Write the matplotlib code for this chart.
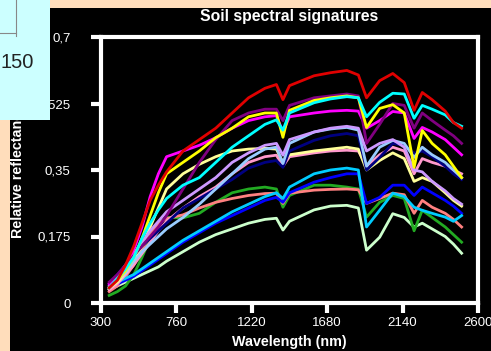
import matplotlib
matplotlib.use("Agg")
import matplotlib.pyplot as plt
from matplotlib.patches import Rectangle
from matplotlib.lines import Line2D

plt.rcParams['font.family'] = ['Liberation Sans', 'DejaVu Sans']

wavelength = [350, 400, 450, 500, 550, 600, 650, 700, 800, 900, 1000, 1100, 1200, 1300, 1370,
              1410, 1450, 1600, 1700, 1800, 1870, 1920, 2000, 2080, 2150, 2210, 2260, 2320, 2400,
              2450, 2500]

pale_green = [0.035, 0.045, 0.055, 0.065, 0.075, 0.085, 0.095, 0.11, 0.135, 0.16, 0.18, 0.195, 0.21,
              0.22, 0.223, 0.192, 0.215, 0.245, 0.255, 0.257, 0.25, 0.139, 0.173, 0.235, 0.225, 0.20,
              0.21, 0.195, 0.175, 0.155, 0.131]
green = [0.02, 0.03, 0.045, 0.075, 0.12, 0.17, 0.21, 0.225, 0.224, 0.236, 0.265, 0.29, 0.30, 0.305,
         0.30, 0.252, 0.283, 0.31, 0.31, 0.305, 0.30, 0.226, 0.265, 0.283, 0.275, 0.19, 0.244, 0.225,
         0.20, 0.18, 0.16]
salmon = [0.03, 0.045, 0.07, 0.10, 0.14, 0.18, 0.21, 0.222, 0.232, 0.25, 0.265, 0.275, 0.283, 0.288,
          0.289, 0.262, 0.289, 0.297, 0.299, 0.30, 0.298, 0.262, 0.275, 0.289, 0.285, 0.236, 0.27,
          0.252, 0.236, 0.22, 0.20]
blue = [0.04, 0.05, 0.06, 0.07, 0.085, 0.10, 0.115, 0.13, 0.16, 0.185, 0.21, 0.23, 0.25, 0.27, 0.278,
        0.265, 0.29, 0.318, 0.33, 0.34, 0.34, 0.262, 0.278, 0.31, 0.31, 0.283, 0.305, 0.29, 0.27,
        0.255, 0.236]
sky_blue = [0.04, 0.055, 0.065, 0.075, 0.09, 0.105, 0.12, 0.135, 0.165, 0.19, 0.215, 0.24, 0.26, 0.28,
            0.29, 0.275, 0.305, 0.34, 0.35, 0.355, 0.35, 0.20, 0.244, 0.289, 0.28, 0.252, 0.244,
            0.236, 0.226, 0.215, 0.23]
pink = [0.035, 0.05, 0.075, 0.10, 0.13, 0.16, 0.19, 0.215, 0.25, 0.28, 0.305, 0.34, 0.37, 0.385, 0.389,
        0.36, 0.385, 0.395, 0.40, 0.402, 0.40, 0.36, 0.39, 0.41, 0.40, 0.34, 0.38, 0.37, 0.36, 0.35,
        0.34]
khaki = [0.04, 0.055, 0.08, 0.11, 0.15, 0.20, 0.25, 0.30, 0.34, 0.365, 0.385, 0.40, 0.405, 0.407, 0.405,
         0.37, 0.39, 0.40, 0.405, 0.41, 0.405, 0.35, 0.375, 0.395, 0.38, 0.32, 0.33, 0.32, 0.29, 0.27,
         0.255]
navy = [0.05, 0.075, 0.10, 0.125, 0.15, 0.17, 0.19, 0.21, 0.25, 0.275, 0.30, 0.325, 0.355, 0.37, 0.375,
        0.357, 0.40, 0.428, 0.44, 0.446, 0.44, 0.35, 0.383, 0.42, 0.415, 0.394, 0.40, 0.385, 0.36,
        0.34, 0.325]
light_blue = [0.04, 0.06, 0.08, 0.11, 0.135, 0.155, 0.175, 0.195, 0.225, 0.26, 0.30, 0.34, 0.38, 0.405,
              0.41, 0.367, 0.42, 0.45, 0.458, 0.462, 0.455, 0.36, 0.41, 0.428, 0.42, 0.383, 0.41,
              0.39, 0.37, 0.35, 0.33]
lavender = [0.045, 0.07, 0.10, 0.13, 0.16, 0.19, 0.215, 0.24, 0.27, 0.30, 0.33, 0.37, 0.395, 0.415,
            0.42, 0.389, 0.43, 0.45, 0.46, 0.465, 0.46, 0.40, 0.42, 0.43, 0.41, 0.35, 0.345, 0.32,
            0.295, 0.275, 0.26]
magenta = [0.05, 0.065, 0.09, 0.14, 0.20, 0.28, 0.34, 0.385, 0.40, 0.415, 0.435, 0.46, 0.48, 0.49,
           0.493, 0.45, 0.49, 0.50, 0.505, 0.507, 0.505, 0.46, 0.48, 0.504, 0.50, 0.433, 0.462, 0.45,
           0.43, 0.41, 0.39]
purple = [0.055, 0.075, 0.10, 0.125, 0.15, 0.175, 0.20, 0.23, 0.30, 0.37, 0.43, 0.48, 0.50, 0.51, 0.51,
          0.48, 0.52, 0.54, 0.545, 0.55, 0.545, 0.42, 0.47, 0.525, 0.52, 0.46, 0.50, 0.48, 0.455,
          0.44, 0.42]
yellow = [0.04, 0.06, 0.085, 0.12, 0.17, 0.23, 0.29, 0.34, 0.37, 0.40, 0.435, 0.46, 0.49, 0.50, 0.50,
          0.436, 0.507, 0.533, 0.54, 0.545, 0.54, 0.462, 0.512, 0.522, 0.50, 0.357, 0.454, 0.42,
          0.39, 0.36, 0.33]
cyan = [0.04, 0.065, 0.09, 0.12, 0.17, 0.21, 0.245, 0.275, 0.31, 0.33, 0.37, 0.41, 0.44, 0.47, 0.482,
        0.455, 0.50, 0.527, 0.537, 0.543, 0.54, 0.49, 0.528, 0.552, 0.55, 0.486, 0.52, 0.51, 0.495,
        0.475, 0.465]
red = [0.04, 0.06, 0.10, 0.15, 0.21, 0.27, 0.31, 0.345, 0.40, 0.43, 0.46, 0.50, 0.54, 0.565, 0.575,
       0.535, 0.572, 0.598, 0.606, 0.612, 0.60, 0.54, 0.585, 0.604, 0.58, 0.507, 0.554, 0.535, 0.505,
       0.475, 0.46]

series = [pale_green, green, salmon, blue, sky_blue, pink, khaki, navy, light_blue, lavender,
          magenta, purple, yellow, cyan, red]
colors = ['#CCFFCC', '#22AA22', '#FF8080', '#0000FF', '#00CCFF', '#FF99CC', '#FFFF99', '#000080',
          '#99CCFF', '#CC99FF', '#FF00FF', '#800080', '#FFFF00', '#00FFFF', '#E00000']

x_ticks = [300, 760, 1220, 1680, 2140, 2600]
y_ticks = [0, 0.175, 0.35, 0.525, 0.7]
y_tick_labels = ['0', '0,175', '0,35', '0,525', '0,7']

W, H = 491, 351
fig = plt.figure(figsize=(W / 100, H / 100), dpi=100, facecolor='#FFDDBB')

# black panel behind the chart
fig.add_artist(Rectangle((10 / W, 0), 1 - 10 / W, 1 - 8 / H, transform=fig.transFigure,
                         facecolor='black', edgecolor='none', zorder=0))

ax = fig.add_axes([101 / W, 1 - 303 / H, 377 / W, 266 / H], zorder=1)
ax.set_facecolor('black')
for values, c in zip(series, colors):
    ax.plot(wavelength, values, color=c, linewidth=2)

ax.set_xlim(300, 2600)
ax.set_ylim(0, 0.7)
ax.set_xticks(x_ticks)
ax.set_yticks(y_ticks)
ax.set_yticklabels(y_tick_labels)
for side in ['left', 'right', 'top', 'bottom']:
    ax.spines[side].set_color('white')
    ax.spines[side].set_linewidth(3)
ax.tick_params(axis='both', colors='white', labelcolor='white', width=3, length=7, labelsize=9.5)
ax.tick_params(axis='y', pad=15)
ax.tick_params(axis='x', pad=3)

fig.text(289.5 / W, 1 - 16 / H, 'Soil spectral signatures', color='white', fontsize=11.3,
         fontweight='bold', ha='center', va='center')
fig.text(289.5 / W, 1 - 342 / H, 'Wavelength (nm)', color='white', fontsize=10.3,
         fontweight='bold', ha='center', va='center')
fig.text(18 / W, 1 - 171 / H, 'Relative reflectance', color='white', fontsize=10.3,
         fontweight='bold', ha='center', va='center', rotation=90)

# light blue box over the top-left corner
fig.add_artist(Rectangle((0, 1 - 120 / H), 50 / W, 120 / H, transform=fig.transFigure,
                         facecolor='#CCFFFF', edgecolor='none', zorder=10))
fig.add_artist(Line2D([16 / W, 16 / W], [1, 1 - 36 / H], transform=fig.transFigure,
                      color='#888888', linewidth=0.8, zorder=11))
fig.add_artist(Line2D([0, 16 / W], [1 - 33 / H, 1 - 33 / H], transform=fig.transFigure,
                      color='#888888', linewidth=0.8, zorder=11))
fig.text(17 / W, 1 - 62 / H, '150', color='#222222', fontsize=14.5, ha='center', va='center',
         zorder=12)

plt.savefig('out.png', dpi=100, facecolor=fig.get_facecolor())
plt.close()
